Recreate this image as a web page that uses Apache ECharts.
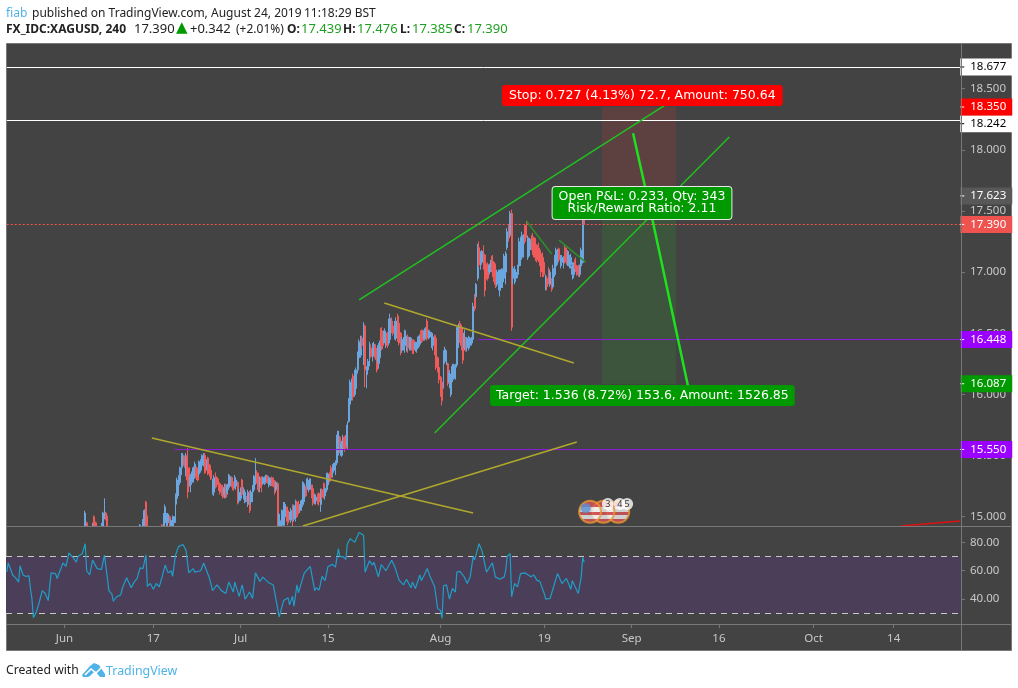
<!DOCTYPE html>
<html><head><meta charset="utf-8">
<style>html,body{margin:0;padding:0;background:#fff}#c{width:1018px;height:688px}</style>
<script src="https://cdn.jsdelivr.net/npm/echarts@6/dist/echarts.min.js"></script>
</head><body><div id="c"></div>
<script>
const barCount = 645;
const timeTickBars = [39,99,158,217,293,363,422,481,545,599];
const timeTickLabels = ['Jun','17','Jul','15','Aug','19','Sep','16','Oct','14'];
const priceTicks = [15,15.5,16,16.5,17,17.5,18,18.5];
const rsiTicks = [40,60,80];
const rsiBands = [30,70];
// bar, open, close, low, high
const candleRows = [
[53,14.85,15.03,14.8,15.05],[54,14.95,14.85,14.8,14.96],[58,14.85,14.93,14.8,14.95],[59,15.0,14.85,14.8,15.01],[60,14.95,14.85,14.8,14.96],[64,14.85,14.93,14.8,14.95],[65,14.9,15.03,14.85,15.04],[66,15.0,15.1,14.98,15.15],[67,15.03,14.99,14.97,15.04],[68,15.0,14.85,14.8,15.01],
[90,14.85,14.93,14.8,14.94],[92,14.9,14.97,14.85,14.98],[93,14.9,15.05,14.85,15.06],[94,15.12,14.9,14.85,15.13],[95,15.0,14.88,14.85,15.01],[105,14.93,14.85,14.8,14.94],[106,14.9,15.02,14.85,15.03],[107,14.95,15.08,14.9,15.10],[108,14.92,15.02,14.85,15.03],[109,14.95,15.02,14.9,15.03],
[110,15.0,14.9,14.85,15.01],[111,14.88,14.97,14.85,14.98],[112,14.9,15.0,14.85,15.01],[113,14.95,15.0,14.94,15.0],[114,14.97,15.18,14.95,15.19],[115,15.15,15.3,15.1,15.32],[116,15.2,15.33,15.17,15.34],[117,15.28,15.4,15.26,15.41],[118,15.35,15.5,15.34,15.52],[119,15.42,15.5,15.4,15.52],
[120,15.49,15.42,15.4,15.5],[121,15.35,15.49,15.33,15.52],[122,15.5,15.3,15.15,15.56],[123,15.4,15.25,15.2,15.4],[124,15.25,15.33,15.2,15.35],[125,15.28,15.35,15.26,15.37],[126,15.3,15.4,15.28,15.41],[127,15.33,15.43,15.31,15.45],[128,15.4,15.32,15.3,15.41],[129,15.39,15.3,15.29,15.4],
[130,15.35,15.45,15.33,15.46],[131,15.38,15.46,15.36,15.47],[132,15.42,15.5,15.4,15.51],[133,15.42,15.5,15.41,15.52],[134,15.5,15.36,15.35,15.52],[135,15.38,15.46,15.38,15.47],[136,15.48,15.35,15.34,15.49],[137,15.42,15.35,15.33,15.43],[138,15.38,15.31,15.3,15.38],[139,15.2,15.3,15.18,15.31],
[140,15.2,15.32,15.17,15.34],[141,15.36,15.24,15.23,15.36],[142,15.32,15.26,15.24,15.33],[143,15.3,15.22,15.21,15.31],[144,15.27,15.2,15.18,15.28],[145,15.25,15.2,15.17,15.26],[146,15.24,15.16,15.15,15.26],[147,15.18,15.24,15.15,15.27],[148,15.26,15.16,15.15,15.27],[149,15.2,15.26,15.18,15.27],
[150,15.24,15.34,15.22,15.35],[151,15.27,15.32,15.25,15.33],[152,15.32,15.25,15.24,15.33],[153,15.28,15.22,15.21,15.29],[154,15.25,15.32,15.23,15.34],[155,15.25,15.3,15.22,15.31],[156,15.28,15.12,15.1,15.29],[157,15.13,15.2,15.11,15.23],[158,15.15,15.22,15.13,15.24],[159,15.3,15.18,15.17,15.31],
[160,15.15,15.22,15.14,15.24],[161,15.12,15.2,15.11,15.21],[162,15.16,15.13,15.12,15.17],[163,15.1,15.2,15.08,15.22],[164,15.2,15.05,15.03,15.21],[165,15.12,15.2,15.1,15.22],[166,15.16,15.25,15.12,15.26],[167,15.22,15.33,15.2,15.34],[168,15.28,15.45,15.26,15.48],[169,15.36,15.3,15.27,15.38],
[170,15.35,15.22,15.2,15.36],[171,15.24,15.3,15.2,15.33],[172,15.32,15.24,15.2,15.33],[173,15.27,15.32,15.26,15.33],[174,15.28,15.32,15.26,15.33],[175,15.28,15.34,15.27,15.34],[176,15.33,15.28,15.27,15.34],[177,15.26,15.32,15.24,15.33],[178,15.26,15.31,15.25,15.32],[179,15.32,15.27,15.25,15.33],
[180,15.31,15.25,15.24,15.32],[181,15.29,15.2,15.18,15.3],[182,15.22,15.28,15.2,15.29],[183,15.27,14.88,14.85,15.28],[184,14.9,15.02,14.87,15.03],[185,14.88,14.95,14.85,14.97],[186,14.93,15.05,14.9,15.06],[187,14.93,15.1,14.9,15.12],[188,15.0,15.1,14.98,15.12],[189,15.08,14.98,14.96,15.08],
[190,15.05,14.95,14.93,15.06],[191,14.98,15.03,14.97,15.04],[192,14.97,15.05,14.95,15.07],[193,15.09,14.9,14.87,15.1],[194,14.98,15.09,14.96,15.1],[195,14.98,15.13,14.96,15.14],[196,15.12,15.0,14.99,15.13],[197,15.1,15.03,15.02,15.13],[198,15.05,15.1,15.03,15.1],[199,15.06,15.13,15.05,15.14],
[200,15.1,15.28,15.08,15.29],[201,15.14,15.26,15.12,15.27],[202,15.25,15.17,15.16,15.25],[203,15.25,15.31,15.22,15.32],[204,15.22,15.28,15.2,15.3],[205,15.25,15.31,15.22,15.31],[206,15.26,15.17,15.15,15.26],[207,15.23,15.11,15.09,15.23],[208,15.12,15.18,15.1,15.19],[209,15.13,15.16,15.1,15.17],
[210,15.18,15.12,15.1,15.19],[211,15.19,15.12,15.09,15.2],[212,15.1,15.2,15.04,15.23],[213,15.22,15.16,15.14,15.23],[214,15.27,15.17,15.15,15.28],[215,15.17,15.23,15.14,15.24],[216,15.22,15.35,15.2,15.36],[217,15.26,15.35,15.22,15.36],[218,15.36,15.3,15.28,15.36],[219,15.4,15.32,15.29,15.42],
[220,15.34,15.42,15.32,15.43],[221,15.38,15.43,15.36,15.44],[222,15.38,15.44,15.34,15.46],[223,15.44,15.65,15.42,15.67],[224,15.55,15.7,15.5,15.7],[225,15.65,15.55,15.52,15.66],[226,15.5,15.6,15.49,15.62],[227,15.55,15.65,15.5,15.67],[228,15.65,15.55,15.53,15.66],[229,15.66,15.56,15.55,15.67],
[230,15.58,15.75,15.55,15.78],[231,15.78,15.93,15.77,15.97],[232,15.92,16.1,15.9,16.12],[233,15.98,16.12,15.95,16.13],[234,16.15,15.98,15.95,16.17],[235,16.0,16.18,15.98,16.2],[236,16.05,16.2,16.0,16.22],[237,16.2,16.33,16.17,16.35],[238,16.3,16.43,16.25,16.45],[239,16.32,16.46,16.3,16.48],
[240,16.46,16.4,16.37,16.48],[241,16.38,16.55,16.24,16.59],[242,16.56,16.2,16.06,16.57],[243,16.1,16.2,16.05,16.23],[244,16.2,16.27,16.16,16.29],[245,16.28,16.42,16.23,16.43],[246,16.38,16.31,16.3,16.41],[247,16.3,16.39,16.27,16.42],[248,16.33,16.41,16.31,16.43],[249,16.4,16.3,16.28,16.41],
[250,16.36,16.2,16.18,16.38],[251,16.26,16.4,16.21,16.42],[252,16.3,16.42,16.25,16.44],[253,16.54,16.4,16.36,16.55],[254,16.5,16.4,16.37,16.52],[255,16.42,16.52,16.42,16.54],[256,16.4,16.5,16.38,16.52],[257,16.5,16.4,16.38,16.51],[258,16.42,16.6,16.4,16.62],[259,16.45,16.62,16.42,16.66],
[260,16.6,16.52,16.5,16.63],[261,16.56,16.5,16.48,16.57],[262,16.47,16.58,16.45,16.6],[263,16.46,16.6,16.44,16.63],[264,16.64,16.45,16.43,16.66],[265,16.58,16.42,16.4,16.59],[266,16.5,16.35,16.32,16.51],[267,16.36,16.45,16.34,16.47],[268,16.38,16.46,16.36,16.47],[269,16.4,16.52,16.34,16.53],
[270,16.38,16.47,16.35,16.48],[271,16.47,16.38,16.34,16.49],[272,16.38,16.46,16.36,16.47],[273,16.38,16.46,16.36,16.47],[274,16.44,16.36,16.33,16.45],[275,16.44,16.36,16.33,16.45],[276,16.37,16.42,16.35,16.43],[277,16.37,16.42,16.34,16.43],[278,16.39,16.47,16.38,16.48],[279,16.41,16.48,16.39,16.49],
[280,16.52,16.44,16.42,16.53],[281,16.52,16.44,16.43,16.53],[282,16.45,16.52,16.44,16.54],[283,16.46,16.54,16.45,16.55],[284,16.6,16.46,16.44,16.62],[285,16.47,16.52,16.45,16.53],[286,16.47,16.51,16.46,16.52],[287,16.42,16.5,16.38,16.51],[288,16.4,16.47,16.36,16.49],[289,16.48,16.35,16.32,16.49],
[290,16.46,16.22,16.2,16.48],[291,16.3,16.2,16.18,16.31],[292,16.22,16.12,16.09,16.23],[293,16.14,16.0,15.98,16.15],[294,16.1,15.95,15.91,16.13],[295,16.05,16.3,16.05,16.36],[296,16.27,16.37,16.25,16.39],[297,16.25,16.33,16.24,16.36],[298,16.25,16.09,16.07,16.26],[299,16.1,16.18,16.05,16.2],
[300,16.0,16.15,15.98,16.17],[301,16.12,16.23,16.1,16.25],[302,16.14,16.24,16.12,16.25],[303,16.13,16.24,16.12,16.25],[304,16.24,16.52,16.22,16.55],[305,16.4,16.56,16.38,16.58],[306,16.58,16.45,16.42,16.6],[307,16.55,16.4,16.36,16.57],[308,16.5,16.28,16.25,16.55],[309,16.38,16.5,16.36,16.53],
[310,16.45,16.36,16.35,16.47],[311,16.38,16.46,16.35,16.47],[312,16.38,16.45,16.36,16.48],[313,16.4,16.46,16.38,16.47],[314,16.42,16.46,16.4,16.47],[315,16.45,16.72,16.44,16.75],[316,16.8,16.7,16.68,16.82],[317,16.8,16.9,16.78,16.91],[318,16.95,17.2,16.93,17.23],[319,17.2,17.06,17.04,17.25],
[320,17.05,17.15,17.02,17.17],[321,17.08,17.17,17.06,17.18],[322,17.2,17.06,17.02,17.22],[323,17.14,16.85,16.8,17.15],[324,17.05,16.96,16.94,17.07],[325,17.05,16.95,16.93,17.08],[326,17.0,17.06,16.98,17.07],[327,17.03,17.08,17.0,17.1],[328,17.13,17.0,16.96,17.14],[329,17.08,16.95,16.92,17.09],
[330,17.06,16.9,16.87,17.07],[331,16.92,17.0,16.88,17.02],[332,16.9,17.0,16.85,17.02],[333,16.85,17.0,16.8,17.02],[334,16.9,17.02,16.87,17.03],[335,16.92,17.02,16.87,17.03],[336,16.95,17.13,16.92,17.15],[337,17.0,17.15,16.9,17.17],[338,17.2,17.33,17.18,17.36],[339,17.38,17.28,17.25,17.39],
[340,17.3,17.48,17.28,17.5],[341,17.48,16.55,16.52,17.51],[342,16.95,17.03,16.9,17.05],[343,16.92,17.02,16.9,17.05],[344,16.95,17.0,16.93,17.02],[345,16.98,17.03,16.95,17.06],[346,17.05,17.25,17.03,17.28],[347,17.1,17.28,17.05,17.29],[348,17.12,17.3,17.1,17.33],[349,17.14,17.28,17.12,17.31],
[350,17.38,17.25,17.23,17.39],[351,17.38,17.3,17.28,17.42],[352,17.12,17.28,17.1,17.3],[353,17.15,17.25,17.13,17.28],[354,17.2,17.26,17.18,17.27],[355,17.3,17.18,17.14,17.32],[356,17.28,17.14,17.12,17.29],[357,17.25,17.12,17.09,17.28],[358,17.22,17.1,17.08,17.23],[359,17.2,17.1,17.08,17.24],
[360,17.18,17.07,17.05,17.2],[361,17.15,17.0,16.96,17.18],[362,17.12,17.0,16.96,17.16],[363,17.08,16.98,16.96,17.1],[364,16.87,16.96,16.85,16.98],[365,16.95,16.88,16.85,16.97],[366,17.02,16.92,16.9,17.04],[367,16.9,17.0,16.88,17.02],[368,16.93,16.86,16.84,16.95],[369,16.88,17.03,16.87,17.06],
[370,16.98,17.12,16.96,17.14],[371,17.05,17.18,17.03,17.2],[372,17.08,17.16,17.06,17.19],[373,17.19,17.1,17.08,17.2],[374,17.06,17.12,17.03,17.14],[375,17.08,17.12,17.05,17.14],[376,17.05,17.12,17.03,17.13],[377,17.2,17.1,17.07,17.22],[378,17.18,17.08,17.06,17.2],[379,17.1,17.17,17.05,17.18],
[380,17.05,17.12,17.03,17.14],[381,17.06,17.12,17.03,17.15],[382,16.98,17.05,16.94,17.08],[383,16.98,17.06,16.95,17.08],[384,17.1,17.03,17.0,17.12],[385,17.05,16.98,16.97,17.06],[386,17.04,16.98,16.96,17.06],[387,16.98,17.04,16.96,17.06],[388,17.05,17.18,17.03,17.2],[389,17.08,17.44,17.07,17.5],
[390,17.439,17.39,17.385,17.476]];
const rsiPoints = [[0,59],[1,65.5],[3,60],[4,57],[6,55],[8,52],[9,63.5],[11,57],[13,56],[15,56.5],[16,47.5],[17,40.5],[18,27],[20,31],[22,38],[24,46],[26,44],[28,39],[30,58.5],[33,58],[34,54.5],[36,60],[37,59],[38,65.5],[40,63],[42,72.5],[43,72.5],[45,69],[47,66],[48,70],[51,72],[53,79],[54,60],[56,57],[58,67.5],[61,61.5],[64,61],[66,71],[68,54.5],[69,46],[71,43.5],[72,38.5],[74,41.5],[77,43],[78,47.5],[81,55],[84,48],[86,52],[88,54.5],[90,62],[92,61.5],[94,71],[95,49],[97,51],[99,47],[101,51],[103,48.7],[105,56],[107,64],[109,58.5],[111,60],[112,56],[114,71],[116,77],[119,78.5],[121,74.5],[123,58.5],[126,61.5],[127,59],[131,60],[133,65.5],[135,60],[137,54.5],[139,46],[142,50],[145,46],[148,44],[150,52],[153,45],[154,52],[157,42],[159,50],[161,40],[164,45],[166,40.5],[168,58.5],[171,52.5],[173,55.5],[177,51.5],[180,50],[182,39],[184,27.5],[185,27.5],[187,39],[190,41],[191,36],[193,42],[194,35],[196,50],[197,44.5],[201,58.5],[205,63],[208,46],[209,48],[211,46.5],[213,56],[215,53],[217,63],[220,64.5],[222,62.5],[224,75.5],[225,70],[227,70],[229,68],[230,78.7],[232,82.6],[235,80],[238,87],[241,85],[242,59],[245,67],[247,64],[248,66],[251,55.7],[253,64.4],[256,60],[260,67.4],[262,63],[265,53.4],[268,50],[270,54],[273,48],[274,52],[276,47.5],[279,57],[280,53],[282,57],[284,61.6],[286,55.7],[289,48.7],[291,33.5],[293,32],[294,26.5],[295,49.4],[297,50],[299,40],[301,47.5],[303,45],[304,59],[306,59.5],[309,55.7],[311,51],[313,55.7],[315,70],[316,67.6],[319,79],[321,74],[322,74.5],[324,59],[328,65.6],[330,55.7],[333,54],[336,55.7],[337,60.3],[338,70],[340,72],[341,41.7],[343,51],[345,48.7],[347,58],[350,58.5],[354,55.7],[356,57],[358,53.4],[360,52.5],[363,44],[364,40],[367,40.5],[370,51],[372,58],[375,51],[378,54.6],[381,47],[382,53],[386,44],[388,55.7],[389,69.3],[390,66]];
const channelUpper = [[238,16.772],[447,18.383]];
const channelLower = [[289,15.684],[488,18.105]];
const projection = [[423,18.136],[436,17.434],[463,15.905]];
const flagTop1 = [[351,17.418],[368,17.148]];
const flagTop2 = [[373,17.262],[391,17.082]];
const wedgeA = [[255,16.747],[383,16.257]];
const wedgeB = [[98,15.643],[315,15.03]];
const wedgeC = [[200,14.924],[385,15.611]];
const redTrend = [[604,14.924],[644,14.965]];
const stopLevel = 18.350, entryLevel = 17.623, targetLevel = 16.087, lastPrice = 17.390;
const whiteLevels = [18.677, 18.242];
const purpleLevels = [[16.448,318],[15.550,113]];
const zoneBars = [402,452];
const eventBars = [413,403,394];
const eventPrice = 15.04;
const badgeBars = [406,414,419];
const badgeTexts = ['3','4','5'];
const badgePrice = 15.104;
const priceMin = 14.924, priceMax = 18.865;
const headerWords = ['fiab','published on TradingView.com,','August 24, 2019','11:18:29 BST'];
const headerValues = ['FX_IDC:XAGUSD, 240','17.390','▲','+0.342','(+2.01%)','O:','17.439','H:','17.476','L:','17.385','C:','17.390'];

const categories = Array.from({length:barCount},(_,i)=>String(i));
const tickMap = new Map(timeTickBars.map((b,i)=>[b,timeTickLabels[i]]));
const FONT = '"Noto Sans", sans-serif';
const LABEL_FONT = '"DejaVu Sans", sans-serif';
// the main pane cuts bars off at its lower edge
const candleData = candleRows.map(r=>[r[0],Math.max(r[1],priceMin),Math.max(r[2],priceMin),Math.max(r[3],priceMin),r[4]]);

const stroke = (name,data,color,width)=>({name,type:'line',data,xAxisIndex:0,yAxisIndex:0,showSymbol:false,symbol:'none',silent:true,z:6,clip:true,
  lineStyle:{color,width},animation:false});

function priceTag(value,bg,fg,startBar,lineStyle,dy){
  const label = {show:true,position:'end',distance:0,offset:[0,dy||0],backgroundColor:bg,padding:[3,6,3,0],
    formatter:'{d|}{t|'+value.toFixed(3)+'}',
    rich:{d:{width:4,height:1,backgroundColor:fg},t:{color:fg,fontSize:11.5,fontFamily:FONT,padding:[0,0,0,6],lineHeight:11}}};
  return [{coord:[startBar,value],lineStyle,label},{coord:[barCount-1,value]}];
}
const hidden = {width:1,color:'rgba(0,0,0,0)'};
const tags = [
  priceTag(whiteLevels[0],'#ffffff','#000000',0,{color:'#ffffff',width:1,type:'solid'}),
  priceTag(whiteLevels[1],'#ffffff','#000000',0,{color:'#ffffff',width:1,type:'solid'},3.5),
  priceTag(stopLevel,'#ff0000','#ffffff',barCount-2,hidden),
  priceTag(entryLevel,'#585858','#ffffff',barCount-2,hidden),
  priceTag(targetLevel,'#009900','#ffffff',barCount-2,hidden),
  priceTag(lastPrice,'#ef5350','#ffffff',0,{color:'#ff5252',width:1,type:[2,2]}),
  priceTag(purpleLevels[0][0],'#9900ff','#ffffff',purpleLevels[0][1],{color:'#8a1cd8',width:1,type:'solid'}),
  priceTag(purpleLevels[1][0],'#9900ff','#ffffff',purpleLevels[1][1],{color:'#8a1cd8',width:1,type:'solid'})
];

// header text placement, one piece per phrase
const headerX = [6,32,211,304];
const header2X = [6,134,176,190,236,287,301,343,357,400,412,454,467];
const header2Style = ['b','g2','t','g2','n','b','g','b','g','b','g','b','g'];
const h2Fill = {b:'#222',n:'#222',g2:'#222',t:'#009900',g:'#1f9f1f'};
const headerGraphics = headerWords.map((w,i)=>({type:'text',z:100,x:headerX[i],y:8,style:{text:w,fill:i===0?'#4fb3e8':'#222',fontSize:12,fontFamily:FONT}}))
 .concat(headerValues.map((w,i)=>{const s=header2Style[i];const digits=(s==='g'||s==='g2');return {type:'text',z:100,x:header2X[i],y:s==='t'?21:(digits?23:24),
   style:{text:w,fill:h2Fill[s],fontWeight:s==='b'?'bold':'normal',fontSize:s==='t'?15:(digits?13:12),fontFamily:s==='t'?'"DejaVu Sans"':FONT}};}));

const option = {
  animation:false,
  backgroundColor:'#ffffff',
  graphic:[
    {type:'rect',z:-10,shape:{x:6.5,y:43.5,width:1005,height:607},style:{fill:'#434343',stroke:'#787878',lineWidth:1}},
    {type:'line',z:100,shape:{x1:6,y1:526.5,x2:1012,y2:526.5},style:{stroke:'#787878',lineWidth:1}},
    {type:'line',z:100,shape:{x1:6,y1:624.5,x2:1012,y2:624.5},style:{stroke:'#787878',lineWidth:1}},
    {type:'line',z:100,shape:{x1:961.5,y1:44,x2:961.5,y2:651},style:{stroke:'#787878',lineWidth:1}},
    ...headerGraphics,
    {type:'text',z:100,x:6,y:665,style:{text:'Created with',fill:'#222',fontSize:12.2,fontFamily:FONT}},
    {type:'polygon',z:100,shape:{points:[[82,675],[90,666],[94,663],[99,665],[101,668],[105,674],[105,677],[100,677],[95,671],[90,676],[88,677],[83,677]]},style:{fill:'#4fb3e8'}},
    {type:'polyline',z:101,shape:{points:[[85,675],[91,669],[96,673],[102,667]]},style:{stroke:'#ffffff',lineWidth:1.6,fill:'none'}},
    {type:'text',z:100,x:106,y:665,style:{text:'TradingView',fill:'#4fb3e8',fontSize:12.4,fontFamily:FONT}},
    {type:'text',z:50,x:502,y:85,style:{text:'Stop: 0.727 (4.13%) 72.7, Amount: 750.64',fill:'#fff',fontSize:12.5,fontFamily:LABEL_FONT,backgroundColor:'#ff0000',padding:[4,7],borderRadius:3}},
    {type:'text',z:50,x:490,y:385,style:{text:'Target: 1.536 (8.72%) 153.6, Amount: 1526.85',fill:'#fff',fontSize:12.5,fontFamily:LABEL_FONT,backgroundColor:'#009900',padding:[4,6],borderRadius:3}},
    {type:'text',z:50,x:642,y:187,style:{text:'Open P&L: 0.233, Qty: 343\nRisk/Reward Ratio: 2.11',fill:'#fff',fontSize:12.5,lineHeight:12,align:'center',fontFamily:LABEL_FONT,backgroundColor:'#009900',borderColor:'#e8e8e8',borderWidth:1,padding:[4,6],borderRadius:3}}
  ],
  grid:[
    {left:6,top:44,width:955,height:482,containLabel:false},
    {left:6,top:527,width:955,height:97,containLabel:false}
  ],
  xAxis:[
    {type:'category',gridIndex:0,data:categories,show:false},
    {type:'category',gridIndex:1,data:categories,boundaryGap:true,
      axisLine:{show:false},
      axisTick:{show:true,length:4,alignWithLabel:true,lineStyle:{color:'#787878'},interval:(i)=>tickMap.has(i)},
      axisLabel:{show:true,color:'#c8c8c8',fontSize:11.5,fontFamily:FONT,margin:9,hideOverlap:false,interval:(i)=>tickMap.has(i),formatter:(v,i)=>tickMap.get(i)||''},
      splitLine:{show:false}}
  ],
  yAxis:[
    {type:'value',gridIndex:0,position:'right',min:priceMin,max:priceMax,scale:true,
      axisLine:{show:false},splitLine:{show:false},
      axisTick:{show:true,length:4,lineStyle:{color:'#787878'},customValues:priceTicks},
      axisLabel:{color:'#c8c8c8',fontSize:11.5,fontFamily:FONT,margin:9,customValues:priceTicks,formatter:v=>v.toFixed(3)}},
    {type:'value',gridIndex:1,position:'right',min:22.5,max:90.8,scale:true,
      axisLine:{show:false},splitLine:{show:false},
      axisTick:{show:true,length:4,lineStyle:{color:'#787878'},customValues:rsiTicks},
      axisLabel:{color:'#c8c8c8',fontSize:11.5,fontFamily:FONT,margin:9,customValues:rsiTicks,formatter:v=>v.toFixed(2)}}
  ],
  series:[
    {name:'zones',type:'line',data:[],xAxisIndex:0,yAxisIndex:0,silent:true,z:1,
      markArea:{silent:true,data:[
        [{coord:[zoneBars[0],stopLevel],itemStyle:{color:'rgba(255,60,60,0.14)'}},{coord:[zoneBars[1],entryLevel]}],
        [{coord:[zoneBars[0],entryLevel],itemStyle:{color:'rgba(30,200,30,0.14)'}},{coord:[zoneBars[1],targetLevel]}]
      ]}},
    {name:'XAGUSD',type:'candlestick',data:candleData,xAxisIndex:0,yAxisIndex:0,encode:{x:0,y:[1,2,3,4]},clip:true,silent:true,z:3,
      barWidth:1.4,itemStyle:{color:'#6ba6e0',color0:'#f05a5a',borderColor:'#6ba6e0',borderColor0:'#f05a5a',borderWidth:1}},
    stroke('channelUpper',channelUpper,'#1fc21f',1.5),
    stroke('channelLower',channelLower,'#1fc21f',1.5),
    stroke('projection',projection,'#1ee01e',2.5),
    stroke('flagTop1',flagTop1,'#2c8f2c',1.5),
    stroke('flagTop2',flagTop2,'#2c8f2c',1.5),
    stroke('wedgeA',wedgeA,'#b0a82c',1.5),
    stroke('wedgeB',wedgeB,'#b0a82c',1.5),
    stroke('wedgeC',wedgeC,'#b0a82c',1.5),
    stroke('redTrend',redTrend,'#e01010',1.5),
    {name:'levels',type:'line',data:[],xAxisIndex:0,yAxisIndex:0,silent:true,z:7,
      markLine:{silent:true,symbol:'none',animation:false,precision:3,data:tags}},
    {name:'events',type:'scatter',xAxisIndex:0,yAxisIndex:0,silent:true,z:8,symbol:'circle',symbolSize:22,clip:false,
      data:eventBars.map(b=>[b,eventPrice]),
      itemStyle:{borderColor:'#e8962e',borderWidth:2,
        color:{type:'linear',x:0,y:0,x2:0,y2:1,colorStops:[[0,'#d9555a'],[.3,'#d9555a'],[.3,'#f4f4f4'],[.5,'#f4f4f4'],[.5,'#d9555a'],[.65,'#d9555a'],[.65,'#f4f4f4'],[.8,'#f4f4f4'],[.8,'#d9555a'],[1,'#d9555a']].map(s=>({offset:s[0],color:s[1]}))}}},
    {name:'eventCanton',type:'scatter',xAxisIndex:0,yAxisIndex:0,silent:true,z:9,symbol:'circle',symbolSize:10,
      data:[[391,15.07]],itemStyle:{color:'#5c8fd6'}},
    {name:'badges',type:'scatter',xAxisIndex:0,yAxisIndex:0,silent:true,z:10,symbol:'circle',symbolSize:12,
      data:badgeBars.map((b,i)=>({value:[b,badgePrice],label:{formatter:badgeTexts[i]}})),
      itemStyle:{color:'#ffffff'},label:{show:true,position:'inside',color:'#000',fontSize:9,fontFamily:FONT}},
    {name:'RSI',type:'line',data:rsiPoints,xAxisIndex:1,yAxisIndex:1,showSymbol:false,symbol:'none',silent:true,z:5,
      lineStyle:{color:'#1f9ec8',width:1.2},
      markArea:{silent:true,itemStyle:{color:'#4b3e58'},data:[[{yAxis:rsiBands[0]},{yAxis:rsiBands[1]}]]},
      markLine:{silent:true,symbol:'none',label:{show:false},lineStyle:{color:'#c8c8c8',type:[6,5],width:1},data:rsiBands.map(v=>({yAxis:v}))}}
  ]
};
echarts.init(document.getElementById('c'),null,{renderer:'canvas'}).setOption(option);
</script></body></html>
